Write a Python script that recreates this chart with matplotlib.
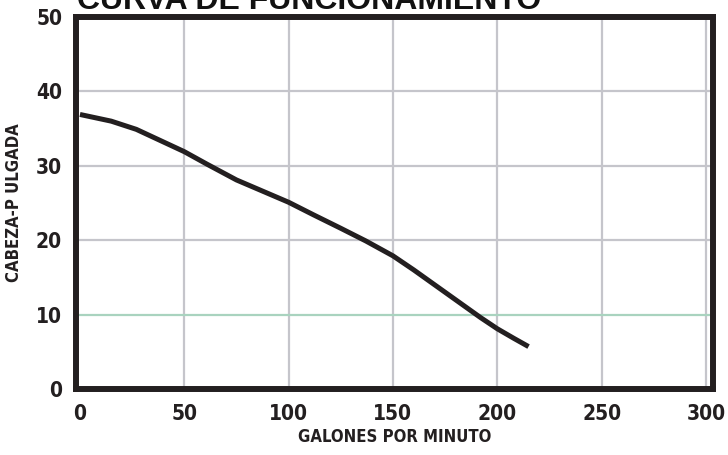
import matplotlib.pyplot as plt

# curve
gpm = [0, 15, 27, 50, 61, 75, 100, 112, 125, 137, 150, 160, 172, 185, 192, 200, 208, 215]
head = [36.9, 36.0, 34.9, 31.9, 30.2, 28.1, 25.1, 23.4, 21.6, 19.9, 17.9, 16.0, 13.6, 11.0, 9.6, 8.1, 6.8, 5.7]

x_ticks = [0, 50, 100, 150, 200, 250, 300]
y_ticks = [0, 10, 20, 30, 40, 50]

fig = plt.figure(figsize=(7.28, 4.55), dpi=100)
ax = fig.add_axes([76 / 728, 1 - 389 / 455, 637 / 728, 372 / 455])

tick_font = dict(family="DejaVu Sans", weight="bold", size=15, stretch="condensed")
ax.set_xlim(-1.9, 303.4)
ax.set_ylim(0, 49.6)
ax.set_xticks(x_ticks)
ax.set_yticks(y_ticks)
ax.set_xticklabels([str(v) for v in x_ticks], fontdict=tick_font)
ax.set_yticklabels([str(v) for v in y_ticks], fontdict=tick_font)
ax.tick_params(axis="x", length=0, pad=11, colors="#231f20")
ax.tick_params(axis="y", length=0, pad=10, colors="#231f20")

for v in x_ticks[1:]:
    ax.axvline(v, color="#c5c5cb", lw=1.6, zorder=1)
for v in y_ticks[1:-1]:
    c = "#a9d3bf" if v == 10 else "#c5c5cb"
    ax.axhline(v, color=c, lw=1.6, zorder=1)

ax.plot(gpm, head, color="#231f20", lw=3.6, solid_capstyle="butt", solid_joinstyle="round", zorder=3)

for s in ax.spines.values():
    s.set_linewidth(4.3)
    s.set_color("#231f20")
    s.set_zorder(4)

ax.set_xlabel("GALONES POR MINUTO", fontfamily="DejaVu Sans", fontstretch="condensed", fontweight="bold",
              fontsize=12, color="#231f20", labelpad=3)
ax.set_ylabel("CABEZA-P ULGADA", fontfamily="DejaVu Sans", fontstretch="condensed", fontweight="bold",
              fontsize=12, color="#231f20", labelpad=9)

fig.text(77 / 728, 1 - 9 / 455, "CURVA DE FUNCIONAMIENTO", fontfamily="Liberation Sans",
         fontweight="bold", fontsize=23, color="#111111", va="baseline", ha="left")

fig.savefig("out.png", dpi=100)
